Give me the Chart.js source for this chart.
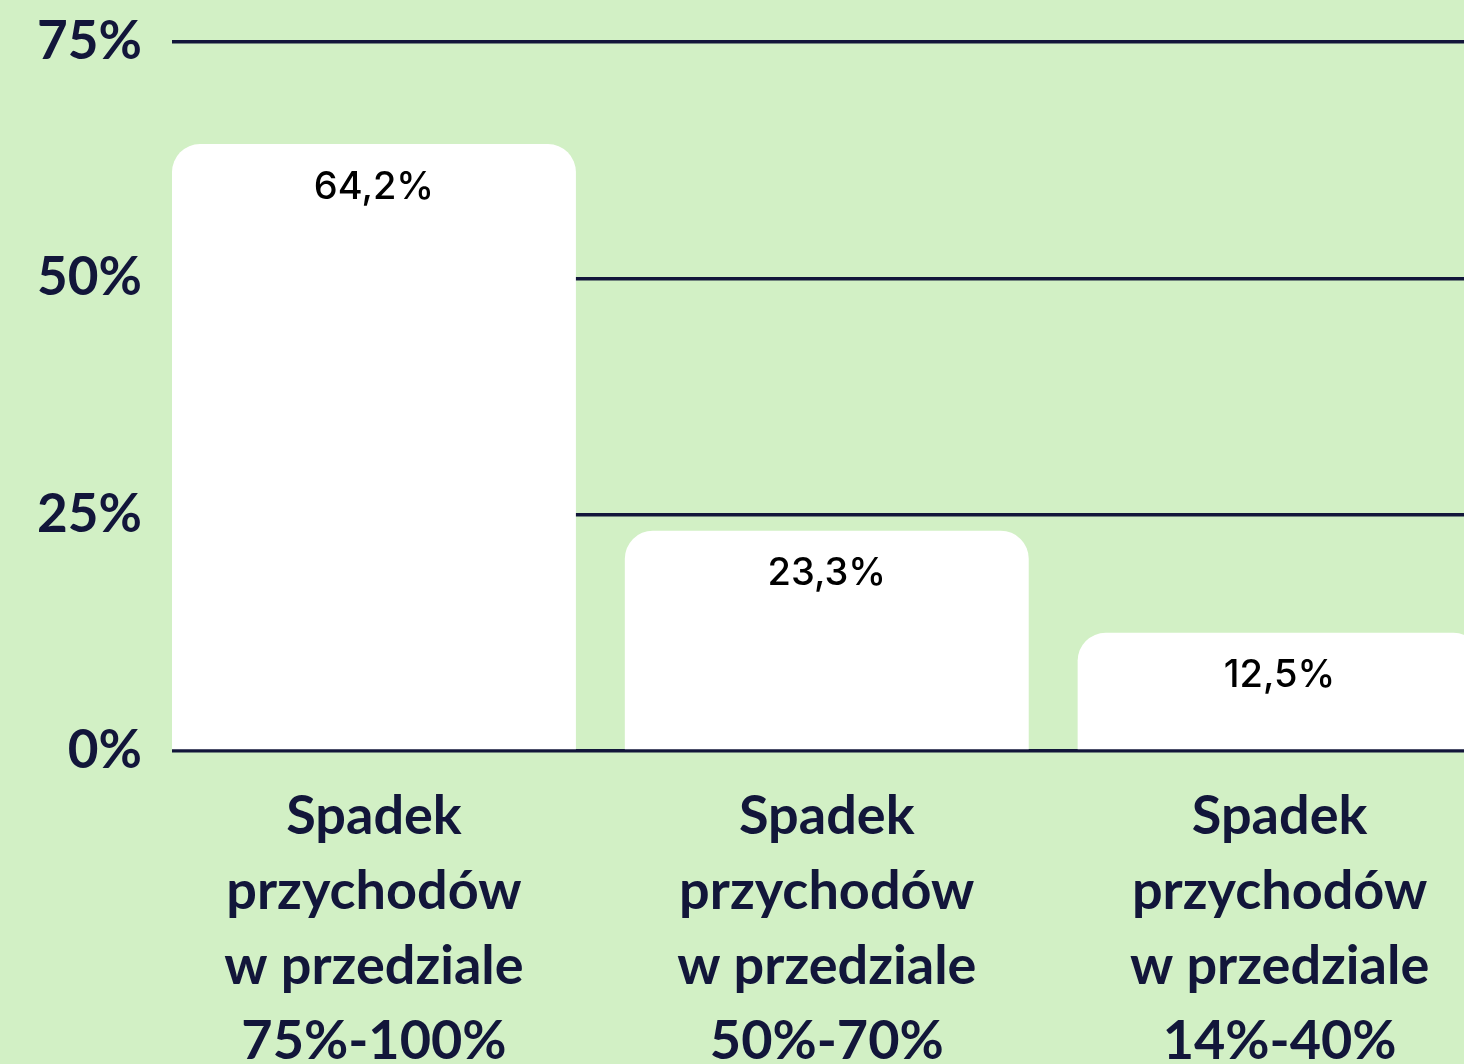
<!DOCTYPE html>
<html>
<head>
<meta charset="utf-8">
<script src="https://cdn.jsdelivr.net/npm/chart.js@4/dist/chart.umd.min.js"></script>
<style>
  html, body { margin:0; padding:0; overflow:hidden; background:#d2f0c5; }
  #wrap { width:1506px; height:1100px; position:relative; }
</style>
</head>
<body>
<div id="wrap"><canvas id="revChart"></canvas></div>
<script>
// ===== Data =====
const categories = [
  ['Spadek', 'przychodów', 'w przedziale', '75%-100%'],
  ['Spadek', 'przychodów', 'w przedziale', '50%-70%'],
  ['Spadek', 'przychodów', 'w przedziale', '14%-40%']
];
const shares = [64.2, 23.3, 12.5];
const yTicks = [0, 25, 50, 75];

const navy = '#12163a';

// value labels inside the bars, just below the rounded top
const valueLabels = {
  id: 'valueLabels',
  afterDatasetsDraw(chart){
    const ctx = chart.ctx;
    const meta = chart.getDatasetMeta(0);
    ctx.save();
    ctx.font = '500 38px Inter, "Noto Sans", sans-serif';
    ctx.fillStyle = '#000';
    ctx.textAlign = 'center';
    ctx.textBaseline = 'middle';
    meta.data.forEach((bar, i) => {
      ctx.fillText(shares[i].toFixed(1).replace('.', ',') + '%', bar.x, bar.y + 43);
    });
    ctx.restore();
  }
};

const ctx = document.getElementById('revChart').getContext('2d');
new Chart(ctx, {
  type: 'bar',
  data: {
    datasets: [{
      data: shares.map((v, i) => ({x: i, y: v})),
      backgroundColor: '#ffffff',
      borderRadius: {topLeft: 28, topRight: 28, bottomLeft: 0, bottomRight: 0},
      borderSkipped: 'start',
      barPercentage: 0.892,
      categoryPercentage: 1
    }]
  },
  options: {
    responsive: true,
    maintainAspectRatio: false,
    devicePixelRatio: 1,
    animation: false,
    layout: { padding: { top: 42, left: 0, right: 0, bottom: 0 } },
    plugins: { legend: { display: false }, tooltip: { enabled: false } },
    scales: {
      x: {
        type: 'linear',
        min: -0.446,
        max: 2.5,
        offset: false,
        grid: { display: false, drawTicks: false },
        border: { display: false },
        afterFit: (s) => { s.height = 349; s.paddingLeft = 0; s.paddingRight = 0; },
        afterBuildTicks: (s) => { s.ticks = categories.map((c, i) => ({value: i})); },
        ticks: {
          autoSkip: false,
          maxRotation: 0,
          padding: 28,
          color: navy,
          font: { family: 'Lato', weight: 'bold', size: 54, lineHeight: 1.39 },
          callback: (v) => categories[v] || ''
        }
      },
      y: {
        min: 0,
        max: 75,
        grid: { color: navy, lineWidth: 3.5, drawTicks: false },
        border: { display: false },
        afterFit: (s) => { s.width = 172; s.paddingTop = 0; s.paddingBottom = 0; },
        afterBuildTicks: (s) => { s.ticks = yTicks.map(v => ({value: v})); },
        ticks: {
          padding: 30,
          color: navy,
          font: { family: 'Lato', weight: 'bold', size: 53 },
          callback: (v) => v + '%'
        }
      }
    }
  },
  plugins: [valueLabels]
});
</script>
</body>
</html>
